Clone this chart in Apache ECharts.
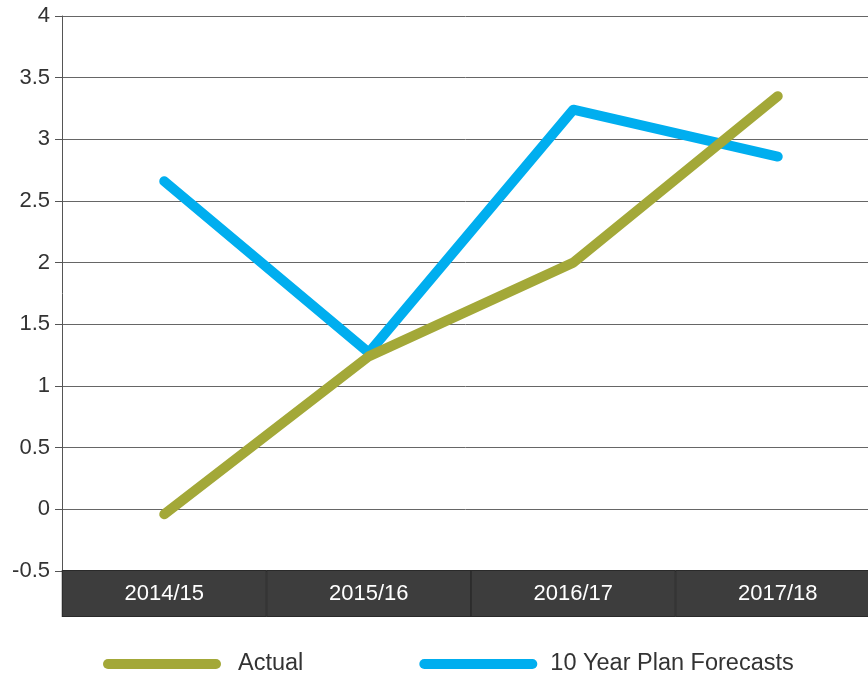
<!DOCTYPE html>
<html>
<head>
<meta charset="utf-8">
<script src="https://cdn.jsdelivr.net/npm/echarts@6/dist/echarts.min.js"></script>
<style>
  html, body { margin: 0; padding: 0; background: #fff; }
  #chart { width: 868px; height: 675px; }
</style>
</head>
<body>
<div id="chart"></div>
<script>
// data
const years = ['2014/15', '2015/16', '2016/17', '2017/18'];
const actual = [-0.04, 1.24, 2.0, 3.35];
const forecasts = [2.66, 1.27, 3.24, 2.86];

const olive = '#a3a838';
const blue = '#00aeef';
const capsule = 'path://M5,0 L113,0 A5,5 0 0 1 113,10 L5,10 A5,5 0 0 1 5,0 Z';

const chart = echarts.init(document.getElementById('chart'));

const option = {
    animation: false,
    textStyle: { fontFamily: 'Liberation Sans, Arial, sans-serif' },
    grid: { left: 62, top: 16, width: 818, height: 555, outerBoundsMode: 'none', containLabel: false },
    legend: {
        left: 98,
        top: 647,
        itemWidth: 118,
        itemHeight: 10,
        itemGap: 116,
        textStyle: { fontSize: 23.5, color: '#333', padding: [0, 0, 0, 12] },
        data: [
            { name: 'Actual', icon: capsule, itemStyle: { color: olive } },
            { name: '10 Year Plan Forecasts', icon: capsule, itemStyle: { color: blue }, textStyle: { padding: [0, 0, 0, 8] } }
        ]
    },
    xAxis: {
        type: 'category',
        data: years,
        boundaryGap: true,
        axisLine: { show: false },
        axisTick: { show: false },
        axisLabel: {
            interval: 0,
            margin: 0,
            width: 203,
            height: 45,
            lineHeight: 45,
            align: 'center',
            verticalAlign: 'top',
            overflow: 'none',
            color: '#fff',
            fontSize: 22,
            backgroundColor: '#3d3d3d',
            borderColor: '#2a2a2a',
            borderWidth: 1
        }
    },
    yAxis: {
        type: 'value',
        min: -0.5,
        max: 4,
        interval: 0.5,
        axisLine: { show: true, lineStyle: { color: '#555', width: 1 } },
        axisTick: { show: true, length: 7, lineStyle: { color: '#555' } },
        axisLabel: { margin: 12, fontSize: 22, color: '#333', padding: [4, 0, 0, 0] },
        splitLine: { lineStyle: { color: '#666', width: 1 } }
    },
    series: [
        {
            name: 'Actual',
            type: 'line',
            data: actual,
            z: 3,
            symbol: 'none',
            color: olive,
            lineStyle: { width: 10, color: olive, cap: 'round', join: 'round' }
        },
        {
            name: '10 Year Plan Forecasts',
            type: 'line',
            data: forecasts,
            z: 2,
            symbol: 'none',
            color: blue,
            lineStyle: { width: 10, color: blue, cap: 'round', join: 'round' }
        }
    ]
};

chart.setOption(option);
</script>
</body>
</html>
